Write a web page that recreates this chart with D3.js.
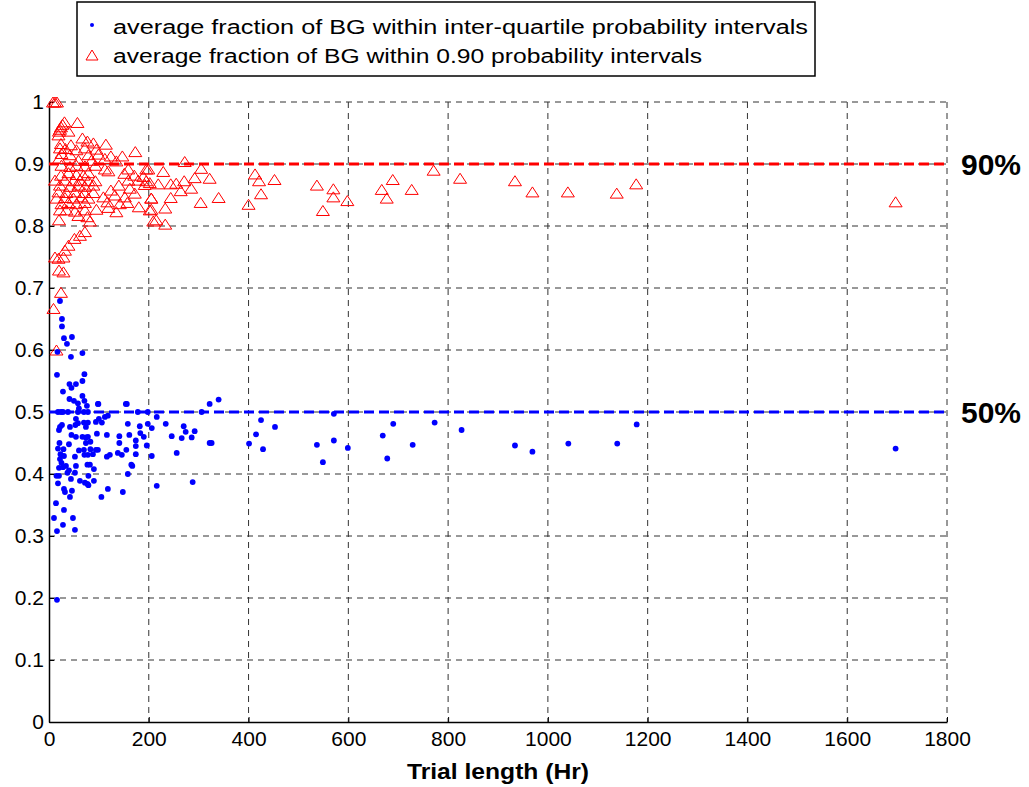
<!DOCTYPE html>
<meta charset="utf-8">
<style>
    body { margin: 0; background: #fff; }
    svg text { font-family: "Liberation Sans Narrow", "Arial Narrow", "Liberation Sans", Arial, sans-serif; }
    .grid line { stroke: #333; stroke-dasharray: 6,5; stroke-width: 1; }
    .tri { fill: none; stroke: #ff0000; stroke-width: 1; }
    .dot { fill: #0000ff; }
</style>
<body></body>
<script src="https://d3js.org/d3.v7.min.js"></script>
<script>
// inter-quartile fractions (blue dots): hours and fraction
var iqrHours = [22,26,26,30,46,36,17,67,44,16,71,67,41,54,45,28,67,41,50,71,58,76,98,154,60,
    18,24,28,38,58,70,78,178,198,
    54,100,112,118,26,22,20,42,53,58,70,78,94,106,158,182,198,206,74,96,116,183,45,54,67,74,78,161,190,141,
    21,40,74,83,141,174,196,174,18,29,60,70,83,94,98,155,23,30,52,71,78,88,116,122,138,146,174,206,
    22,25,34,54,77,82,165,167,20,28,90,40,37,52,79,158,15,20,18,44,62,72,77,79,90,30,32,46,42,118,105,148,
    14,30,10,48,28,16,52,16,
    216,234,270,274,292,286,266,246,256,322,326,216,288,322,340,306,156,99,
    401,415,425,429,453,537,549,571,571,599,669,678,690,729,773,827,934,969,1041,1139,1178,1697];
var iqrFrac = [0.679,0.650,0.638,0.619,0.621,0.610,0.597,0.595,0.589,0.560,0.561,0.550,0.545,0.545,0.539,0.533,0.526,0.521,0.518,0.518,0.514,0.510,0.513,0.513,0.506,
    0.500,0.500,0.500,0.500,0.500,0.500,0.500,0.500,0.500,
    0.489,0.489,0.492,0.494,0.479,0.476,0.471,0.476,0.479,0.482,0.483,0.483,0.484,0.483,0.481,0.477,0.481,0.474,0.476,0.465,0.463,0.466,0.463,0.460,0.460,0.459,0.460,0.463,0.460,0.461,
    0.450,0.448,0.450,0.452,0.450,0.454,0.446,0.445,0.441,0.440,0.438,0.439,0.440,0.439,0.439,0.439,0.432,0.429,0.428,0.431,0.431,0.432,0.428,0.431,0.434,0.431,0.432,0.429,
    0.424,0.418,0.413,0.413,0.415,0.415,0.415,0.413,0.410,0.411,0.408,0.406,0.402,0.402,0.397,0.400,0.397,0.397,0.385,0.392,0.389,0.386,0.384,0.382,0.389,0.376,0.371,0.373,0.363,0.376,0.363,0.371,
    0.353,0.342,0.329,0.329,0.318,0.308,0.310,0.197,
    0.492,0.481,0.477,0.468,0.469,0.459,0.458,0.461,0.434,0.450,0.450,0.381,0.387,0.513,0.520,0.500,0.513,0.513,
    0.449,0.464,0.487,0.440,0.476,0.447,0.419,0.454,0.497,0.442,0.462,0.425,0.481,0.447,0.483,0.471,0.446,0.436,0.449,0.449,0.480,0.441];

// 0.90 interval fractions (red triangles)
var p90Hours = [8,12,16,31,27,24,22,20,57,39,19,67,77,89,114,24,44,22,33,55,72,95,25,42,79,99,173,124,147,
    20,59,85,112,135,195,25,42,55,72,93,112,119,159,24,39,55,69,79,151,171,189,12,32,49,62,79,93,159,179,195,
    22,42,59,72,89,140,192,202,19,35,52,71,89,124,162,172,15,32,49,65,79,109,132,152,205,25,39,55,72,117,142,157,180,
    22,35,52,72,95,119,135,202,59,77,20,82,209,72,62,51,39,32,12,29,19,20,29,24,9,15,
    272,229,305,199,292,322,271,219,244,255,285,264,205,244,340,304,205,233,215,233,400,
    413,421,452,425,537,570,570,549,598,667,689,677,727,771,824,934,969,1040,1138,1177,1697];
var p90Frac = [1.0,1.0,1.0,0.968,0.964,0.960,0.956,0.953,0.967,0.953,0.947,0.942,0.937,0.934,0.932,0.933,0.931,0.926,0.925,0.923,0.926,0.924,0.917,0.915,0.915,0.916,0.920,0.913,0.913,
    0.909,0.906,0.906,0.909,0.905,0.892,0.898,0.896,0.898,0.897,0.898,0.892,0.889,0.892,0.882,0.886,0.883,0.882,0.886,0.885,0.882,0.880,0.874,0.874,0.873,0.874,0.873,0.873,0.874,0.874,0.873,
    0.866,0.864,0.866,0.864,0.866,0.866,0.867,0.870,0.855,0.854,0.855,0.854,0.854,0.858,0.861,0.853,0.845,0.846,0.845,0.847,0.845,0.847,0.850,0.847,0.845,0.836,0.838,0.836,0.838,0.839,0.836,0.838,0.831,
    0.826,0.826,0.824,0.826,0.827,0.830,0.823,0.826,0.817,0.815,0.810,0.808,0.808,0.791,0.785,0.780,0.769,0.761,0.750,0.750,0.748,0.729,0.726,0.693,0.667,0.600,
    0.904,0.888,0.893,0.892,0.878,0.877,0.873,0.868,0.868,0.869,0.861,0.857,0.845,0.846,0.846,0.838,0.827,0.829,0.810,0.803,0.835,
    0.884,0.873,0.875,0.852,0.866,0.860,0.847,0.825,0.841,0.859,0.875,0.845,0.859,0.890,0.877,0.873,0.855,0.855,0.853,0.868,0.839];

var xTicks = [0,200,400,600,800,1000,1200,1400,1600,1800];
var yTicks = [0,0.1,0.2,0.3,0.4,0.5,0.6,0.7,0.8,0.9,1];
var refLevels = [0.9, 0.5];
var refLabels = ["90%", "50%"];
var refColors = ["#ff0000", "#0000ff"];
var legendLabels = ["average fraction of BG within inter-quartile probability intervals",
                    "average fraction of BG within 0.90 probability intervals"];

var margin = {top: 102, right: 82, bottom: 65, left: 49},
    width = 1029 - margin.left - margin.right,
    height = 787 - margin.top - margin.bottom;

var svg = d3.select("body").append("svg")
    .attr("width", 1029)
    .attr("height", 787);

var g = svg.append("g")
    .attr("transform", "translate(" + margin.left + "," + margin.top + ")");

var xScale = d3.scaleLinear().domain([0, 1800]).range([0, width]);
var yScale = d3.scaleLinear().domain([0, 1]).range([height, 0]);

// dashed grid
var grid = g.append("g").attr("class", "grid");
grid.selectAll(".gx").data(xTicks.slice(1)).enter().append("line")
    .attr("x1", d => xScale(d)).attr("x2", d => xScale(d))
    .attr("y1", 0).attr("y2", height);
grid.selectAll(".gy").data(yTicks.slice(1)).enter().append("line")
    .attr("x1", 0).attr("x2", width)
    .attr("y1", d => yScale(d)).attr("y2", d => yScale(d));

// axes
var xAxis = g.append("g")
    .attr("transform", "translate(0," + height + ")")
    .call(d3.axisBottom(xScale).tickValues(xTicks).tickFormat(d3.format("d")).tickSizeInner(-5).tickSizeOuter(0).tickPadding(9));
var yAxis = g.append("g")
    .call(d3.axisLeft(yScale).tickValues(yTicks).tickFormat(d => d === 0 || d === 1 ? d : d3.format(".1f")(d)).tickSizeInner(-5).tickSizeOuter(0).tickPadding(5));
[xAxis, yAxis].forEach(function(a) {
    a.selectAll("text").attr("font-size", 21).attr("fill", "#000")
        .style("font-family", "'Liberation Sans Narrow', 'Arial Narrow', sans-serif");
    a.select(".domain").attr("stroke", "#000").attr("stroke-width", 1.5);
    a.selectAll(".tick line").attr("stroke", "#000");
});

// reference lines
g.selectAll(".ref").data(refLevels).enter().append("line")
    .attr("x1", 0).attr("x2", width)
    .attr("y1", d => yScale(d)).attr("y2", d => yScale(d))
    .attr("stroke", (d, i) => refColors[i])
    .attr("stroke-width", 3)
    .attr("stroke-dasharray", "10,5");

g.selectAll(".reflab").data(refLevels).enter().append("text")
    .attr("x", width + 14)
    .attr("y", d => yScale(d) + 11)
    .attr("font-size", 30)
    .attr("font-weight", "bold")
    .style("font-family", "'Liberation Sans', Arial, sans-serif")
    .text((d, i) => refLabels[i]);

// triangles
g.selectAll(".tri").data(p90Hours).enter().append("path")
    .attr("class", "tri")
    .attr("d", "M0,-5L6.5,5L-6.5,5Z")
    .attr("transform", (d, i) => "translate(" + xScale(d) + "," + yScale(p90Frac[i]) + ")");

// dots
g.selectAll(".dot").data(iqrHours).enter().append("circle")
    .attr("class", "dot")
    .attr("cx", d => xScale(d))
    .attr("cy", (d, i) => yScale(iqrFrac[i]))
    .attr("r", 2.9);

// x label
svg.append("text")
    .attr("x", margin.left + width / 2)
    .attr("y", 779)
    .attr("text-anchor", "middle")
    .attr("font-size", 22)
    .attr("font-weight", "bold")
    .attr("textLength", 182)
    .attr("lengthAdjust", "spacingAndGlyphs")
    .text("Trial length (Hr)");

// legend
var legWidths = [695, 589];
var leg = svg.append("g");
leg.append("rect")
    .attr("x", 77).attr("y", 2).attr("width", 738).attr("height", 74)
    .attr("fill", "#fff").attr("stroke", "#000").attr("stroke-width", 1.5);
leg.append("circle").attr("cx", 92).attr("cy", 25).attr("r", 2).attr("fill", "#0000ff");
leg.append("path").attr("class", "tri").attr("d", "M0,-5L6,5L-6,5Z")
    .attr("transform", "translate(92,55)");
leg.selectAll(".lt").data(legendLabels).enter().append("text")
    .attr("x", 113)
    .attr("y", (d, i) => 34 + i * 29)
    .attr("font-size", 20)
    .attr("textLength", (d, i) => legWidths[i])
    .attr("lengthAdjust", "spacingAndGlyphs")
    .style("font-family", "'Liberation Sans', Arial, sans-serif")
    .text(d => d);
</script>
